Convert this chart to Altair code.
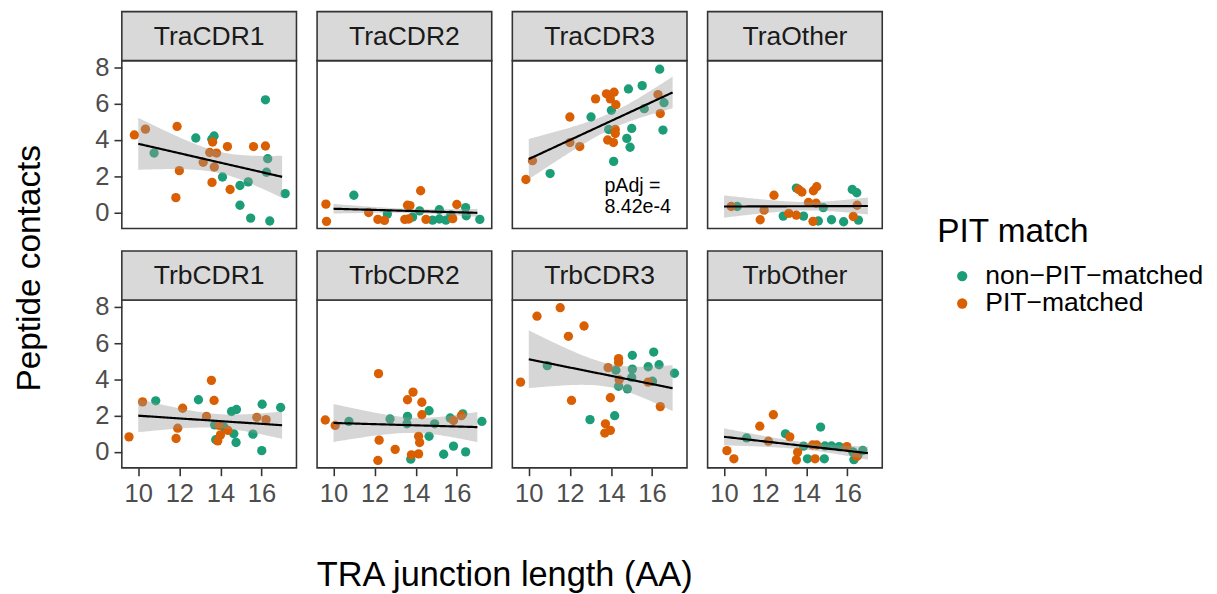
import numpy as np
import pandas as pd
import altair as alt

FONT = "Liberation Sans"
PANELS = ["TraCDR1", "TraCDR2", "TraCDR3", "TraOther",
          "TrbCDR1", "TrbCDR2", "TrbCDR3", "TrbOther"]
GROUPS = ["non\u2212PIT\u2212matched", "PIT\u2212matched"]
COLORS = ["#1B9E77", "#D95F02"]
X_TICKS = [10, 12, 14, 16]
Y_TICKS = [0, 2, 4, 6, 8]
ANNOT_PANEL = "TraCDR3"
ANNOT_TEXT = ["pAdj =\n8.42e-4"]
ANNOT_X = [13.68]
ANNOT_Y = [1.45]

# ---- jittered point positions ----
TRACDR1_NON_X = [10.77, 12.80, 13.58, 13.69, 14.10, 14.95, 15.35, 14.95, 15.47, 16.19, 16.30, 16.24, 16.40, 17.15]
TRACDR1_NON_Y = [3.28, 4.11, 4.04, 4.22, 1.96, 1.49, 1.69, 0.40, -0.31, 6.22, 2.97, 2.22, -0.47, 1.04]
TRACDR1_PIT_X = [9.81, 10.35, 11.89, 12.00, 11.83, 13.62, 13.48, 13.81, 13.16, 13.70, 14.34, 13.59, 14.47, 15.61, 16.19]
TRACDR1_PIT_Y = [4.28, 4.60, 4.75, 2.31, 0.82, 3.89, 3.31, 3.28, 2.77, 2.51, 3.64, 1.66, 1.27, 3.64, 3.67]

TRACDR2_NON_X = [10.99, 12.62, 13.85, 14.19, 14.82, 15.15, 15.15, 15.47, 15.71, 16.43, 16.46, 17.12]
TRACDR2_NON_Y = [0.95, -0.09, -0.25, 0.09, -0.42, 0.15, -0.36, -0.42, -0.13, 0.27, -0.18, -0.38]
TRACDR2_PIT_X = [9.63, 9.66, 11.71, 12.16, 12.48, 13.47, 13.60, 13.72, 13.66, 14.24, 14.50, 15.80, 16.00]
TRACDR2_PIT_Y = [0.46, -0.49, 0.00, -0.38, -0.44, -0.38, 0.40, 0.38, -0.36, 1.20, -0.38, -0.34, 0.44]

TRACDR3_NON_X = [11.04, 13.03, 14.02, 13.89, 14.13, 14.77, 14.93, 15.01, 14.85, 15.52, 15.62, 16.37, 16.58, 16.53]
TRACDR3_NON_Y = [2.15, 5.27, 5.64, 4.58, 2.82, 4.09, 3.60, 4.64, 6.82, 7.00, 5.73, 7.91, 6.06, 4.55]
TRACDR3_PIT_X = [9.86, 10.18, 12.00, 12.00, 12.48, 13.25, 13.78, 14.15, 13.97, 14.24, 14.21, 14.21, 13.84, 14.12, 16.29, 16.40]
TRACDR3_PIT_Y = [1.82, 2.86, 5.27, 3.86, 3.64, 6.27, 6.55, 6.64, 6.27, 5.95, 4.58, 4.36, 4.00, 3.86, 6.51, 5.46]

TRAOTHER_NON_X = [10.64, 12.88, 13.52, 13.87, 14.83, 14.59, 15.23, 15.82, 16.24, 16.46, 16.54]
TRAOTHER_NON_Y = [0.33, -0.20, 1.35, -0.20, 0.27, -0.47, -0.40, -0.51, 1.27, 1.09, -0.42]
TRAOTHER_PIT_X = [10.35, 11.76, 11.95, 12.43, 13.15, 13.52, 13.63, 13.79, 14.35, 14.51, 14.11, 14.48, 14.33, 16.48, 16.29]
TRAOTHER_PIT_Y = [0.33, -0.40, 0.13, 0.95, -0.05, -0.15, 1.27, 1.13, 1.20, 1.42, 0.55, 0.51, -0.49, 0.40, -0.22]

TRBCDR1_NON_X = [10.85, 12.93, 13.72, 13.77, 14.17, 14.54, 14.78, 14.65, 14.76, 15.58, 16.03, 16.01, 16.93]
TRBCDR1_NON_Y = [2.82, 2.88, 1.49, 0.67, 1.37, 2.23, 2.34, 1.00, 0.52, 0.98, 2.63, 0.07, 2.45]
TRBCDR1_PIT_X = [9.55, 10.21, 11.84, 11.92, 12.16, 13.32, 13.56, 13.69, 13.93, 14.36, 14.00, 13.87, 15.77, 16.22]
TRBCDR1_PIT_Y = [0.83, 2.76, 0.74, 1.31, 2.41, 1.96, 3.95, 2.84, 1.46, 1.19, 0.94, 0.61, 1.91, 1.78]

TRBCDR2_NON_X = [10.75, 12.75, 13.60, 13.57, 14.65, 14.65, 14.92, 15.68, 16.29, 15.84, 15.36, 16.43, 13.76, 17.22]
TRBCDR2_NON_Y = [1.68, 1.82, 1.96, 1.55, 2.27, 0.86, 1.55, 1.87, 2.10, 0.32, -0.13, 0.00, -0.40, 1.68]
TRBCDR2_PIT_X = [9.60, 10.08, 12.19, 12.22, 12.16, 13.00, 13.87, 13.60, 14.30, 14.30, 14.14, 14.19, 13.79, 14.14, 15.84, 16.22]
TRBCDR2_PIT_Y = [1.76, 1.46, 4.32, 0.65, -0.47, 0.14, 3.30, 2.88, 2.74, 2.05, 0.86, 0.52, -0.16, -0.11, 1.73, 2.00]

TRBCDR3_NON_X = [10.90, 12.98, 14.18, 14.24, 14.37, 14.80, 15.04, 15.04, 15.01, 15.81, 16.02, 16.08, 16.34, 17.09]
TRBCDR3_NON_Y = [4.76, 1.78, 2.00, 4.51, 3.62, 3.48, 5.33, 4.57, 4.11, 4.70, 3.90, 5.51, 4.81, 4.34]
TRBCDR3_PIT_X = [9.60, 10.40, 11.53, 11.93, 12.69, 12.08, 13.86, 14.37, 14.37, 14.40, 13.97, 13.73, 13.70, 13.97, 15.81, 16.40]
TRBCDR3_PIT_Y = [3.85, 7.49, 7.96, 6.38, 6.95, 2.84, 4.65, 5.15, 4.94, 3.98, 2.99, 1.55, 1.04, 1.19, 3.85, 2.50]

TRBOTHER_NON_X = [11.10, 12.99, 13.87, 14.06, 14.70, 14.91, 15.23, 15.60, 14.88, 16.27, 16.75, 16.32, 16.51]
TRBOTHER_NON_Y = [0.77, 1.00, 0.32, -0.38, 1.37, 0.33, 0.33, 0.29, -0.38, 0.00, 0.08, -0.43, -0.20]
TRBOTHER_PIT_X = [10.14, 10.48, 11.74, 12.40, 12.16, 13.20, 13.58, 13.52, 14.31, 14.51, 14.43, 15.98, 16.46]
TRBOTHER_PIT_Y = [0.07, -0.38, 1.42, 2.05, 0.59, 0.83, -0.01, -0.44, 0.38, 0.38, -0.38, 0.29, -0.25]

DATA = {
    "TraCDR1": (TRACDR1_NON_X, TRACDR1_NON_Y, TRACDR1_PIT_X, TRACDR1_PIT_Y),
    "TraCDR2": (TRACDR2_NON_X, TRACDR2_NON_Y, TRACDR2_PIT_X, TRACDR2_PIT_Y),
    "TraCDR3": (TRACDR3_NON_X, TRACDR3_NON_Y, TRACDR3_PIT_X, TRACDR3_PIT_Y),
    "TraOther": (TRAOTHER_NON_X, TRAOTHER_NON_Y, TRAOTHER_PIT_X, TRAOTHER_PIT_Y),
    "TrbCDR1": (TRBCDR1_NON_X, TRBCDR1_NON_Y, TRBCDR1_PIT_X, TRBCDR1_PIT_Y),
    "TrbCDR2": (TRBCDR2_NON_X, TRBCDR2_NON_Y, TRBCDR2_PIT_X, TRBCDR2_PIT_Y),
    "TrbCDR3": (TRBCDR3_NON_X, TRBCDR3_NON_Y, TRBCDR3_PIT_X, TRBCDR3_PIT_Y),
    "TrbOther": (TRBOTHER_NON_X, TRBOTHER_NON_Y, TRBOTHER_PIT_X, TRBOTHER_PIT_Y),
}

W, H, STRIP = 178, 171, 50
XDOM = [9.2, 17.7]
YDOM = [-0.88, 8.38]


def t975(df):
    z = 1.959963985
    return (z + (z ** 3 + z) / (4 * df)
            + (5 * z ** 5 + 16 * z ** 3 + 3 * z) / (96 * df ** 2)
            + (3 * z ** 7 + 19 * z ** 5 + 17 * z ** 3 - 15 * z) / (384 * df ** 3))


def smooth(xs, ys):
    # points are jittered; the underlying values are integers
    xr = np.round(np.asarray(xs, float))
    yr = np.round(np.asarray(ys, float))
    n = len(xr)
    b, a = np.polyfit(xr, yr, 1)
    resid = yr - (a + b * xr)
    s = np.sqrt(np.sum(resid ** 2) / (n - 2))
    xbar = xr.mean()
    sxx = np.sum((xr - xbar) ** 2)
    g = np.linspace(xr.min(), xr.max(), 80)
    fit = a + b * g
    se = s * np.sqrt(1.0 / n + (g - xbar) ** 2 / sxx)
    t = t975(n - 2)
    return pd.DataFrame({"x": g, "fit": fit, "lo": fit - t * se, "hi": fit + t * se})


LEGEND = alt.Legend(title="PIT match", orient="none", legendX=831, legendY=158,
                    titleFontSize=34, titleFont=FONT, titleFontWeight="normal",
                    titleColor="black", titlePadding=14, labelFontSize=27,
                    labelFont=FONT, labelColor="black", labelLimit=0, symbolType="circle",
                    symbolSize=110, symbolStrokeWidth=0, symbolOpacity=1,
                    symbolOffset=12, labelOffset=10, rowPadding=0)


def enc_x(field, axis):
    return alt.X(field, type="quantitative", scale=alt.Scale(domain=XDOM, nice=False, zero=False),
                 axis=axis, title=None)


def enc_y(field, axis):
    return alt.Y(field, type="quantitative", scale=alt.Scale(domain=YDOM, nice=False, zero=False),
                 axis=axis, title=None)


def panel_chart(i, name):
    nx, ny, px, py = DATA[name]
    pts = pd.DataFrame({
        "x": list(nx) + list(px),
        "y": list(ny) + list(py),
        "group": [GROUPS[0]] * len(nx) + [GROUPS[1]] * len(px),
    })
    fit = smooth(list(nx) + list(px), list(ny) + list(py))
    row, col = divmod(i, 4)
    xaxis = alt.Axis(values=X_TICKS, labelPadding=5) if row == 1 else None
    yaxis = alt.Axis(values=Y_TICKS, labelPadding=5) if col == 0 else None

    points = alt.Chart(pts).mark_circle(size=90, opacity=1).encode(
        x=enc_x("x", xaxis), y=enc_y("y", yaxis),
        color=alt.Color("group:N", scale=alt.Scale(domain=GROUPS, range=COLORS), legend=LEGEND),
    )
    band = alt.Chart(fit).mark_area(color="#999999", opacity=0.4).encode(
        x=enc_x("x", xaxis), y=enc_y("lo", yaxis), y2="hi:Q")
    line = alt.Chart(fit).mark_line(color="black", strokeWidth=2.2).encode(
        x=enc_x("x", xaxis), y=enc_y("fit", yaxis))
    sdf = pd.DataFrame({"panel": [name]})
    strip = alt.Chart(sdf).mark_rect(fill="#D9D9D9", stroke="#333333", strokeWidth=1.6).encode(
        x=alt.value(0), x2=alt.value(W), y=alt.value(-STRIP), y2=alt.value(0))
    stext = alt.Chart(sdf).mark_text(fontSize=27, font=FONT, color="#1A1A1A",
                                     baseline="middle", align="center").encode(
        text="panel:N", x=alt.value(W / 2), y=alt.value(-STRIP / 2 + 1))
    layers = [points, band, line, strip, stext]
    if name == ANNOT_PANEL:
        adf = pd.DataFrame({"x": ANNOT_X, "y": ANNOT_Y, "label": ANNOT_TEXT})
        layers.append(alt.Chart(adf).mark_text(align="left", baseline="middle", lineBreak="\n",
                                               fontSize=20, font=FONT, color="black",
                                               lineHeight=21).encode(
            x=enc_x("x", xaxis), y=enc_y("y", yaxis), text="label:N"))
    return alt.layer(*layers).properties(width=W, height=H)


charts = [panel_chart(i, n) for i, n in enumerate(PANELS)]
row1 = alt.hconcat(*charts[:4], spacing=17)
row2 = alt.hconcat(*charts[4:], spacing=17)
grid = alt.vconcat(row1, row2, spacing=20).properties(
    title=alt.TitleParams("TRA junction length (AA)", orient="bottom", anchor="middle",
                          fontSize=35, font=FONT, fontWeight="normal", color="black",
                          offset=53, dx=16))
chart = alt.hconcat(grid).properties(
    title=alt.TitleParams("Peptide contacts", orient="left", anchor="middle",
                          fontSize=34, font=FONT, fontWeight="normal", color="black",
                          offset=48, dx=34),
    padding={"top": -4, "left": 5, "right": 5, "bottom": 0},
).configure_view(stroke="#333333", strokeWidth=1.6).configure_axis(
    labelFont=FONT, labelFontSize=26, labelColor="#4D4D4D", tickColor="#333333",
    tickWidth=1.6, tickSize=8, domain=False, grid=False,
)

chart.save("out.html", embed_options={"renderer": "svg", "actions": False})
